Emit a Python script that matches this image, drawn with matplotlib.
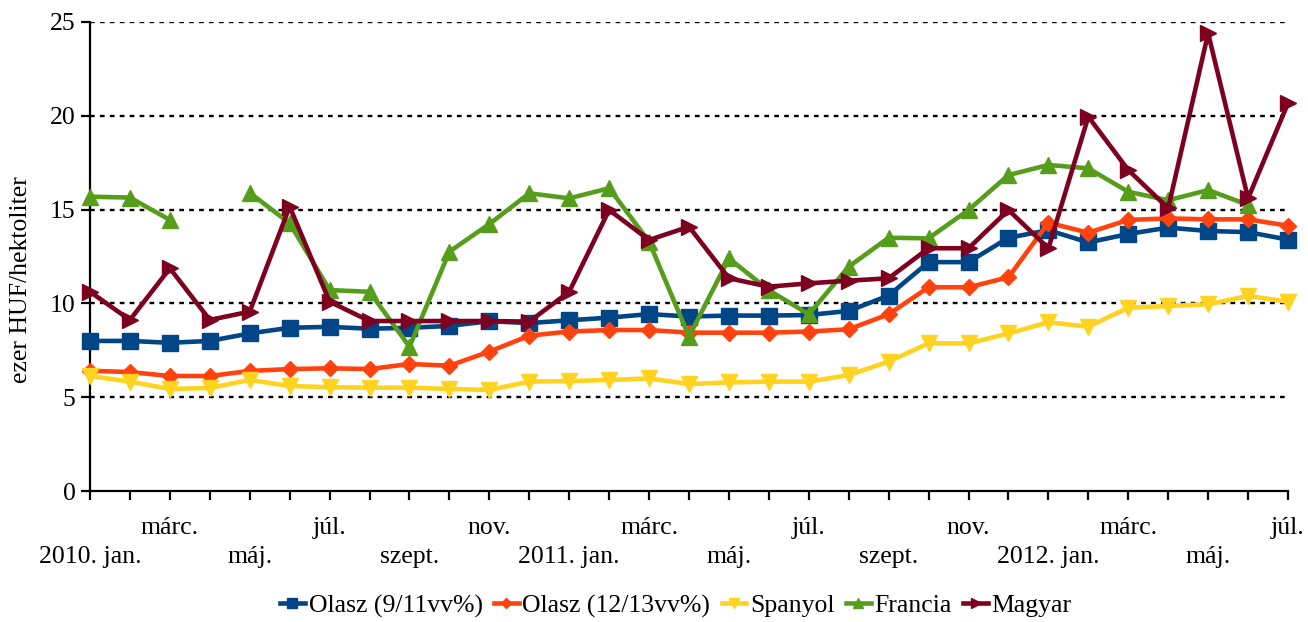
import matplotlib
matplotlib.use("Agg")
import matplotlib.pyplot as plt
import numpy as np

plt.rcParams["font.family"] = ["Liberation Serif", "DejaVu Serif"]

# havi adatok 2010. jan. - 2012. júl.
month_labels = [
    "2010. jan.", "", "márc.", "", "máj.", "", "júl.", "", "szept.", "", "nov.", "",
    "2011. jan.", "", "márc.", "", "máj.", "", "júl.", "", "szept.", "", "nov.", "",
    "2012. jan.", "", "márc.", "", "máj.", "", "júl.",
]

olasz_9_11 = [8.0, 8.0, 7.9, 8.0, 8.4, 8.7, 8.75, 8.65, 8.7, 8.8, 9.05,
              8.95, 9.1, 9.24, 9.43, 9.3, 9.35, 9.35, 9.38, 9.6, 10.42,
              12.2, 12.2, 13.5, 13.9, 13.25, 13.7, 14.04, 13.86, 13.8, 13.4]
olasz_12_13 = [6.41, 6.34, 6.13, 6.13, 6.4, 6.5, 6.54, 6.5, 6.77, 6.68, 7.43,
               8.28, 8.5, 8.58, 8.58, 8.44, 8.44, 8.44, 8.5, 8.62, 9.42,
               10.86, 10.86, 11.39, 14.3, 13.77, 14.45, 14.53, 14.48, 14.48, 14.14]
spanyol = [6.13, 5.83, 5.44, 5.49, 5.92, 5.6, 5.53, 5.51, 5.51, 5.44, 5.39,
           5.83, 5.86, 5.92, 6.0, 5.7, 5.79, 5.83, 5.83, 6.18, 6.9,
           7.87, 7.87, 8.4, 8.99, 8.76, 9.77, 9.86, 9.95, 10.4, 10.09]
francia = [15.69, 15.64, 14.45, np.nan, 15.9, 14.27, 10.71, 10.62, 7.69, 12.76, 14.23,
           15.87, 15.6, 16.14, 13.29, 8.23, 12.4, 10.7, 9.42, 11.96, 13.5,
           13.47, 14.98, 16.84, 17.38, 17.2, 15.95, 15.5, 16.04, 15.25, np.nan]
magyar = [10.62, 9.12, 11.87, 9.12, 9.56, 15.16, 10.09, 9.06, 9.06, 9.06, 9.06,
          9.03, 10.62, 14.98, 13.38, 14.09, 11.34, 10.89, 11.07, 11.21, 11.34,
          12.94, 12.94, 14.98, 12.94, 19.95, 17.11, 15.07, 24.4, 15.6, 20.67]

series = [
    ("Olasz (9/11vv%)", olasz_9_11, "#004586", "s", 11),
    ("Olasz (12/13vv%)", olasz_12_13, "#ff420e", "D", 8),
    ("Spanyol", spanyol, "#ffd320", "v", 12),
    ("Francia", francia, "#579d1c", "^", 12),
    ("Magyar", magyar, "#7e0021", ">", 12),
]

FS = 18.5

fig = plt.figure(figsize=(13.08, 6.22), dpi=100)
ax = fig.add_axes([90 / 1308, 1 - 491 / 622, 1198 / 1308, 469 / 622])

x = np.arange(len(month_labels))
for name, vals, color, marker, ms in series:
    ax.plot(x, vals, color=color, lw=3.3, marker=marker, markersize=ms,
            label=name, clip_on=False, zorder=3)

ax.set_xlim(0, len(month_labels) - 1)
ax.set_ylim(0, 25)
ax.set_yticks([0, 5, 10, 15, 20, 25])
for v in [5, 10, 15, 20, 25]:
    ax.axhline(v, color="black", lw=1.7, linestyle=(0, (2, 2.2)), zorder=1)

# két sorban váltakozó feliratok
labels = []
for i, lab in enumerate(month_labels):
    if lab and i % 4 == 0:
        labels.append("\n" + lab)
    else:
        labels.append(lab)
ax.set_xticks(x)
ax.set_xticklabels(labels, fontsize=FS, linespacing=1.42)
ax.tick_params(axis="x", direction="out", length=6.5, width=1.6, pad=12)
ax.tick_params(axis="y", direction="out", length=6.5, width=1.6, pad=4,
               labelsize=FS)

for side in ["top", "right"]:
    ax.spines[side].set_visible(False)
for side in ["left", "bottom"]:
    ax.spines[side].set_linewidth(1.6)

ax.set_ylabel("ezer HUF/hektoliter", fontsize=FS)
ax.yaxis.set_label_coords(-58 / 1198, (491 - 280) / 469)

fig.legend(loc="center", bbox_to_anchor=(676 / 1308, 1 - 606 / 622), ncol=5,
           frameon=False, fontsize=FS, handlelength=0.95, handletextpad=0.15,
           columnspacing=0.45, markerscale=0.6)

fig.savefig("out.png", dpi=100)
